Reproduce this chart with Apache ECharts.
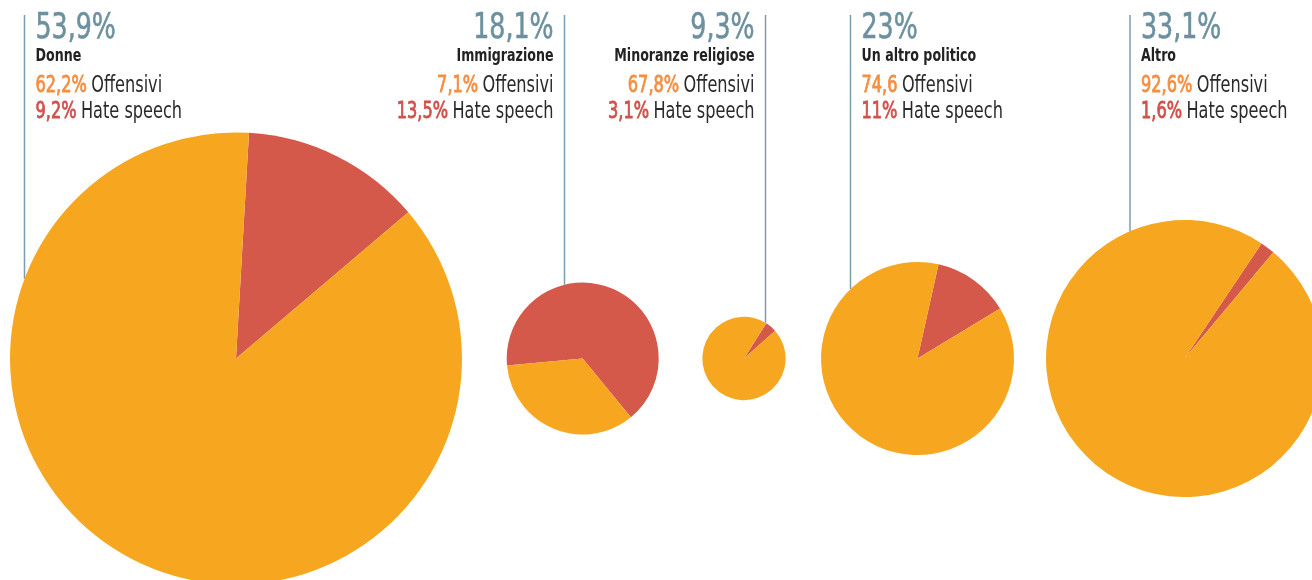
<!DOCTYPE html>
<html>
<head>
<meta charset="utf-8">
<script src="https://cdn.jsdelivr.net/npm/echarts@6/dist/echarts.min.js"></script>
<style>
html,body{margin:0;padding:0;background:#fff;}
#chart{width:1312px;height:580px;}
</style>
</head>
<body>
<div id="chart"></div>
<script>
// ---- data ----
const categories = ['Donne', 'Immigrazione', 'Minoranze religiose', 'Un altro politico', 'Altro'];
const shareLabels = ['53,9%', '18,1%', '9,3%', '23%', '33,1%'];
const shareValues = [53.9, 18.1, 9.3, 23, 33.1];
const offensiviValues = [62.2, 7.1, 67.8, 74.6, 92.6];
const offensiviLabels = ['62,2%', '7,1%', '67,8%', '74,6', '92,6%'];
const hateValues = [9.2, 13.5, 3.1, 11, 1.6];
const hateLabels = ['9,2%', '13,5%', '3,1%', '11%', '1,6%'];

// ---- layout (positions / sizes / styles) ----
const centerX = [236, 582.7, 744, 917.5, 1184.5];
const centerY = 358.5;
const radii = [226, 76, 41.7, 96.5, 138.5];
const startAngles = [86.7, -174.7, 57.6, 77.4, 56.2];
const lineX = [24.5, 564.5, 765.5, 850.5, 1130];
const textAlign = ['left', 'right', 'right', 'left', 'left'];
const lineTop = 15;
const textGap = 11;
const SQUEEZE = 0.78;

const FONT = '"DejaVu Sans Condensed", "DejaVu Sans", sans-serif';
const C_ORANGE = '#F7A71F';
const C_RED = '#D4594B';
const C_OFF_TXT = '#F68D3F';
const C_HATE_TXT = '#D0504A';
const C_SHARE = '#6D909F';
const C_LINE = '#7D9CAC';

const chart = echarts.init(document.getElementById('chart'), null, {renderer: 'canvas'});

const series = categories.map((cat, i) => ({
  type: 'pie',
  name: cat,
  center: [centerX[i], centerY],
  radius: [0, radii[i]],
  startAngle: startAngles[i],
  clockwise: true,
  minAngle: 0,
  avoidLabelOverlap: false,
  silent: true,
  animation: false,
  label: {show: false},
  labelLine: {show: false},
  emphasis: {disabled: true},
  itemStyle: {borderWidth: 0},
  data: [
    {name: 'Hate speech', value: hateValues[i], itemStyle: {color: C_RED}},
    {name: 'Offensivi', value: offensiviValues[i], itemStyle: {color: C_ORANGE}}
  ]
}));

function txt(x, y, align, style) {
  return {
    type: 'text', silent: true, z: 5,
    x: x, y: y, scaleX: SQUEEZE, scaleY: 1,
    style: Object.assign({x: 0, y: 0, align: align, verticalAlign: 'middle'}, style)
  };
}

const GAP = ' \u2009';
const graphics = [];
categories.forEach((cat, i) => {
  const dx = lineX[i] - centerX[i];
  const yEnd = centerY - Math.sqrt(Math.max(0, radii[i] * radii[i] - dx * dx));
  graphics.push({
    type: 'line', silent: true, z: 1,
    shape: {x1: lineX[i], y1: lineTop, x2: lineX[i], y2: yEnd},
    style: {stroke: C_LINE, lineWidth: 1.5}
  });
  const tx = textAlign[i] === 'left' ? lineX[i] + textGap : lineX[i] - textGap;
  const al = textAlign[i];
  graphics.push(txt(tx, 29, al, {text: shareLabels[i], font: '400 36px ' + FONT, fill: C_SHARE,
    stroke: C_SHARE, lineWidth: 0.6}));
  graphics.push(txt(tx, 56, al, {text: cat, font: '700 18px ' + FONT, fill: '#222222'}));
  graphics.push(txt(tx, 86, al, {
    text: '{p|' + offensiviLabels[i] + '}' + GAP + '{t|Offensivi}',
    rich: {
      p: {font: '400 23px ' + FONT, fill: C_OFF_TXT, stroke: C_OFF_TXT, lineWidth: 0.8},
      t: {font: '400 23px ' + FONT, fill: '#2a2a2a'}
    }
  }));
  graphics.push(txt(tx, 112, al, {
    text: '{p|' + hateLabels[i] + '}' + GAP + '{t|Hate speech}',
    rich: {
      p: {font: '400 23px ' + FONT, fill: C_HATE_TXT, stroke: C_HATE_TXT, lineWidth: 0.8},
      t: {font: '400 23px ' + FONT, fill: '#2a2a2a'}
    }
  }));
});

chart.setOption({
  animation: false,
  backgroundColor: '#ffffff',
  series: series,
  graphic: {elements: graphics}
});
</script>
</body>
</html>
